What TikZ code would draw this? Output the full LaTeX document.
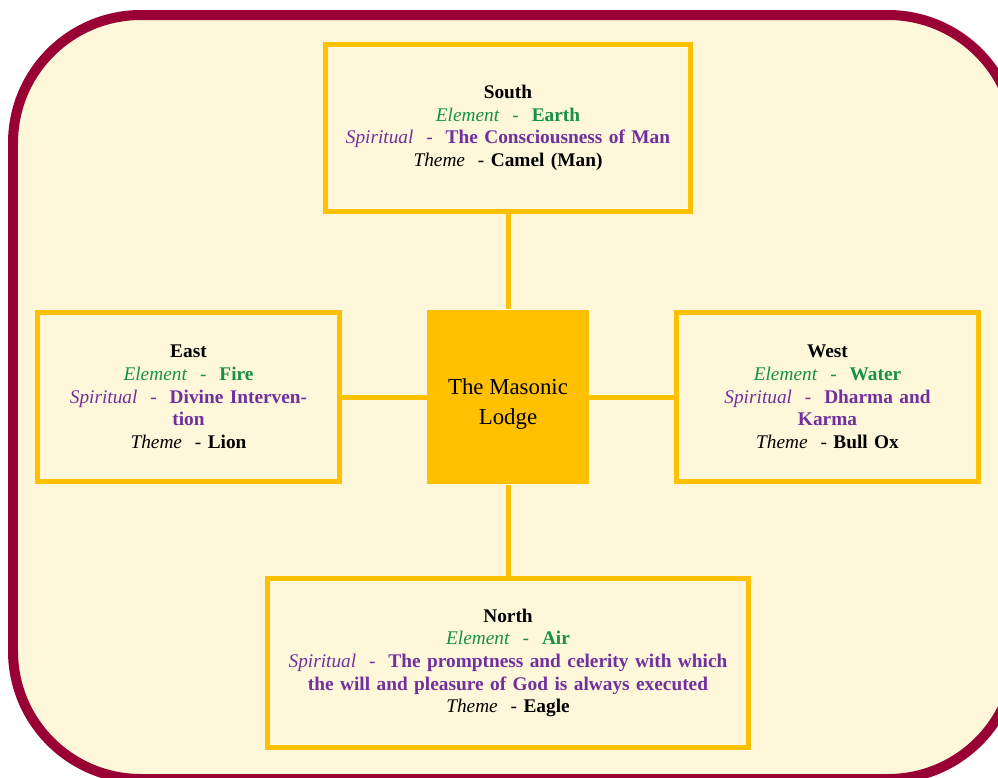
\documentclass[tikz,border=0pt]{standalone}
\usepackage{fontspec}
\setmainfont{Liberation Serif}

\definecolor{lodgered}{RGB}{153,0,51}
\definecolor{paper}{RGB}{255,247,217}
\definecolor{gold}{RGB}{255,192,0}
\definecolor{leaf}{RGB}{22,145,70}
\definecolor{plum}{RGB}{112,48,160}

% one line per attribute of a quarter
\newcommand{\elementline}[1]{{\color{leaf}\textit{Element}~~-~~\textbf{#1}}}
\newcommand{\spiritline}[1]{{\color{plum}\textit{Spiritual}~~-~~\textbf{#1}}}
\newcommand{\themeline}[1]{\textit{Theme}~~-~\textbf{#1}}

\begin{document}
\begin{tikzpicture}[x=0.02cm,y=-0.02cm,
    quarter/.style={draw=gold, line width=0.1cm, fill=paper, inner sep=0pt,
      align=center, font=\fontsize{11}{12.9}\selectfont},
    lodgebox/.style={fill=gold, inner sep=0pt, align=center,
      minimum width=3.24cm, minimum height=3.5cm,
      font=\fontsize{13}{17}\selectfont},
    link/.style={draw=gold, line width=0.1cm}]
    \useasboundingbox (0,0) rectangle (998,778);

    % Outer frame
    \draw[lodgered, fill=paper, line width=0.2cm, rounded corners=2.56cm]
      (13,15) rectangle (1016,779);

    % Centre of the lodge (empty first line lowers the text a little)
    \node[lodgebox] (lodge) at (508,397) {\mbox{}\\The Masonic\\Lodge};

    % The four quarters
    \node[quarter, minimum width=7.32cm, minimum height=3.36cm, text width=6.9cm]
      (south) at (508,128) {\textbf{South}\\
      \elementline{Earth}\\
      \spiritline{The Consciousness of Man}\\
      \themeline{Camel (Man)}};
    \node[quarter, minimum width=6.04cm, minimum height=3.38cm, text width=5.6cm]
      (east) at (188.5,397) {\textbf{East}\\
      \elementline{Fire}\\
      \spiritline{Divine Interven-\\tion}\\
      \themeline{Lion}};
    \node[quarter, minimum width=6.04cm, minimum height=3.38cm, text width=5.6cm]
      (west) at (827.5,397) {\textbf{West}\\
      \elementline{Water}\\
      \spiritline{Dharma and\\Karma}\\
      \themeline{Bull Ox}};
    \node[quarter, minimum width=9.64cm, minimum height=3.38cm, text width=9.2cm]
      (north) at (508,663) {\textbf{North}\\
      \elementline{Air}\\
      \spiritline{The promptness and celerity with which\\the will and pleasure of God is always executed}\\
      \themeline{Eagle}};

    % Links to the lodge
    \draw[link] (south) -- (lodge);
    \draw[link] (lodge) -- (north);
    \draw[link] (east) -- (lodge);
    \draw[link] (lodge) -- (west);

\end{tikzpicture}
\end{document}
